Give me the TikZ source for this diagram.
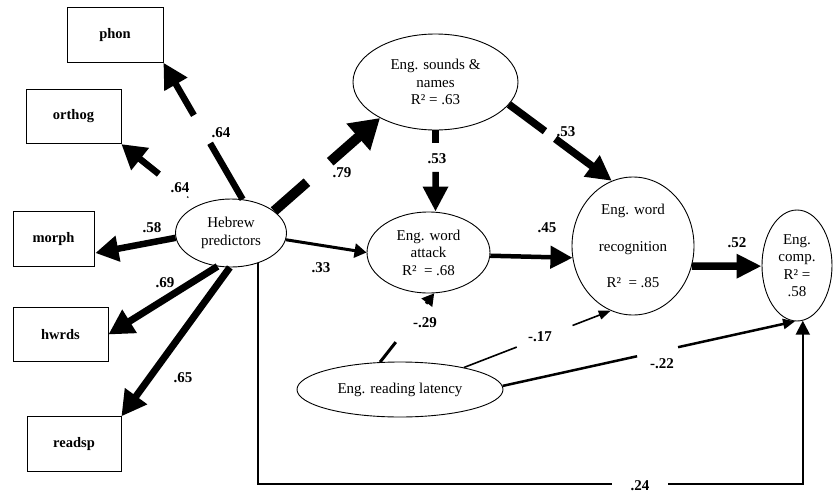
\documentclass[tikz,border=0pt]{standalone}
\usepackage{fontspec}
\setmainfont{Liberation Serif}
\usetikzlibrary{arrows.meta,shapes.geometric,calc}
\begin{document}
\begin{tikzpicture}[x=1pt,y=-1pt,
  every node/.style={font=\fontsize{15}{17.5}\selectfont},
  box/.style={draw, line width=0.8pt, rectangle, inner sep=0pt, minimum width=95pt, minimum height=54.5pt, font=\fontsize{14.5}{17}\selectfont\bfseries},
  lv/.style={ellipse, draw, line width=0.9pt, inner sep=0pt, align=center},
  lab/.style={font=\fontsize{15}{17}\selectfont\bfseries, inner sep=0.5pt},
  pth/.style={line width=#1},
  arr/.style n args={3}{line width=#1, -{Triangle[length=#2, width=#3]}},
]
\useasboundingbox (0,0) rectangle (833,493);

% observed measures
\node[box, minimum width=96pt] (phon) at (115,35) {phon};
\node[box] (orthog) at (73.5,116.5) {orthog};
\node[box, minimum width=81pt] (morph) at (53.5,239) {morph};
\node[box] (hwrds) at (60.5,334.5) {hwrds};
\node[box, minimum width=94pt] (readsp) at (74,444) {readsp};

% latent variables
\node[lv, minimum width=111pt, minimum height=68pt] (heb) at (231,233) {Hebrew\\predictors};
\node[lv, minimum width=165pt, minimum height=96pt] (sn) at (435.5,82) {Eng. sounds \&\\names\\R² = .63};
\node[lv, minimum width=123pt, minimum height=81pt] (wa) at (428.5,252.5) {Eng. word\\attack\\R²~ = .68};
\node[lv, minimum width=122pt, minimum height=138pt] (wr) at (633,246) {Eng. word\\[19pt]recognition\\[19pt]R²~ = .85};
\node[lv, minimum width=70pt, minimum height=111pt] (comp) at (797,265.5) {Eng.\\comp.\\R² =\\.58};
\node[lv, minimum width=206pt, minimum height=55pt] (lat) at (400,389.5) {Eng. reading latency};

\coordinate (base) at (0,484);

% Hebrew -> phon
\draw[pth=6.5pt] (heb.71) -- ($(heb.71)!0.41!(phon.south east)$);
\draw[arr={6.5pt}{25pt}{25pt}] ($(heb.71)!0.615!(phon.south east)$) -- (phon.south east);
% Hebrew -> orthog
\draw[line width=1.2pt] ($(heb.140)!0.125!(orthog.south east)$) -- ($(heb.140)!0.14!(orthog.south east)$);
\draw[arr={6.5pt}{24pt}{27pt}] ($(heb.140)!0.51!(orthog.south east)$) -- (orthog.south east);
% Hebrew -> morph
\draw[arr={6.5pt}{23pt}{25pt}] (heb.185) -- ($(morph.east)+(1,14)$);
% Hebrew -> hwrds
\draw[arr={7pt}{25pt}{26pt}] (heb.248) -- (hwrds.east);
% Hebrew -> readsp
\draw[arr={7pt}{25pt}{26pt}] (heb.268) -- (readsp.north east);
% Hebrew -> sounds & names
\draw[pth=10pt] (heb.27) -- ($(heb.27)!0.31!(sn.213)$);
\draw[arr={10pt}{29pt}{34pt}] ($(heb.27)!0.53!(sn.213)$) -- (sn.213);
% Hebrew -> word attack
\draw[arr={3pt}{12pt}{14pt}] (heb.353) -- (wa.west);
% sounds -> word attack
\draw[pth=6.5pt] (sn.south) -- ($(sn.south)!0.16!(sn.south |- wa.north)$);
\draw[arr={6.5pt}{25pt}{24pt}] ($(sn.south)!0.51!(sn.south |- wa.north)$) -- (sn.south |- wa.north);
% sounds -> word recognition
\draw[pth=7.5pt] (sn.343) -- ($(sn.343)!0.35!(wr.108)$);
\draw[arr={7.5pt}{25pt}{25pt}] ($(sn.343)!0.45!(wr.108)$) -- (wr.108);
% word attack -> word recognition
\draw[arr={4.5pt}{22pt}{22pt}] (wa.357) -- (wr.191);
% word recognition -> comp
\draw[arr={7.5pt}{25pt}{23pt}] (wr.341) -- (comp.181);
% latency -> word attack
\draw[pth=3pt] (lat.126) -- ($(lat.126)!0.29!(wa.278)$);
\draw[arr={3pt}{12pt}{13pt}] ($(lat.126)!0.85!(wa.278)$) -- (wa.278);
% latency -> word recognition
\draw[pth=1.6pt] (lat.19) -- ($(lat.19)!0.36!(wr.251)$);
\draw[arr={1.6pt}{12pt}{9pt}] ($(lat.19)!0.74!(wr.251)$) -- (wr.251);
% latency -> comp
\draw[pth=2.5pt] (lat.2) -- ($(lat.2)!0.46!(comp.268)$);
\draw[arr={2.5pt}{12pt}{10pt}] ($(lat.2)!0.60!(comp.268)$) -- (comp.268);
% Hebrew -> comp (direct)
\draw[arr={2.2pt}{14pt}{14pt}] (heb.312) -- (heb.312 |- base) -- (comp.276 |- base) -- (comp.276);

% path coefficients
\node[lab] (l1) at (221,133) {.64};
\node[lab] (l2) at (180,188) {.64};
\node[lab] (l3) at (152,228) {.58};
\node[lab] (l4) at (165,283) {.69};
\node[lab] (l5) at (183,378) {.65};
\node[lab] (l6) at (342,173) {.79};
\node[lab] (l7) at (321,268) {.33};
\node[lab] (l8) at (437,159) {.53};
\node[lab] (l9) at (566,132) {.53};
\node[lab] (l10) at (547,228) {.45};
\node[lab] (l11) at (737,243) {.52};
\node[lab] (l12) at (425,323) {-.29};
\node[lab] (l13) at (540,337) {-.17};
\node[lab] (l14) at (662,364) {-.22};
\node[lab, fill=white, minimum width=56pt, inner ysep=3pt] (l15) at (640,486) {.24};
\end{tikzpicture}
\end{document}
